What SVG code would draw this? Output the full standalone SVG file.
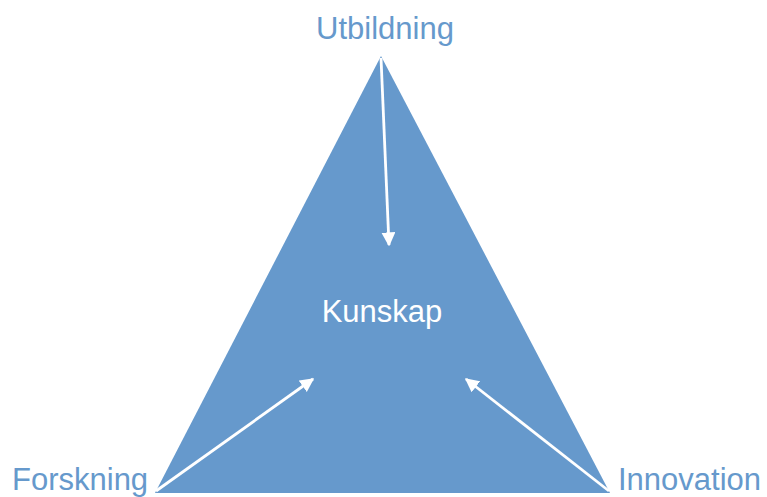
<svg xmlns="http://www.w3.org/2000/svg" width="767" height="497" viewBox="0 0 767 497">
<defs>
<marker id="ah" viewBox="0 0 10 10" refX="9" refY="5" markerWidth="5" markerHeight="5" orient="auto" markerUnits="strokeWidth">
<path d="M0,0 L10,5 L0,10 Z" fill="#ffffff"/>
</marker>
<style>
.lbl{font-family:"Liberation Sans",Arial,sans-serif;font-size:31px;fill:#6699cc;}
.ctr{font-family:"Liberation Sans",Arial,sans-serif;font-size:31px;fill:#ffffff;}
.con{stroke:#ffffff;stroke-width:2.8;fill:none;marker-end:url(#ah);}
</style>
</defs>
<rect width="767" height="497" fill="#ffffff"/>
<g id="triangle">
<polygon points="381,56 155,493 610,493" fill="#6699cc"/>
<text class="ctr" x="382" y="322" text-anchor="middle">Kunskap</text>
</g>
<g id="utbildning"><text class="lbl" x="385" y="39" text-anchor="middle">Utbildning</text></g>
<g id="forskning"><text class="lbl" x="12" y="490">Forskning</text></g>
<g id="innovation"><text class="lbl" x="618" y="490">Innovation</text></g>
<g id="connectors">
<line class="con" x1="381" y1="58" x2="389" y2="245"/>
<line class="con" x1="156" y1="491" x2="313" y2="379"/>
<line class="con" x1="609" y1="491" x2="466" y2="379"/>
</g>
</svg>
